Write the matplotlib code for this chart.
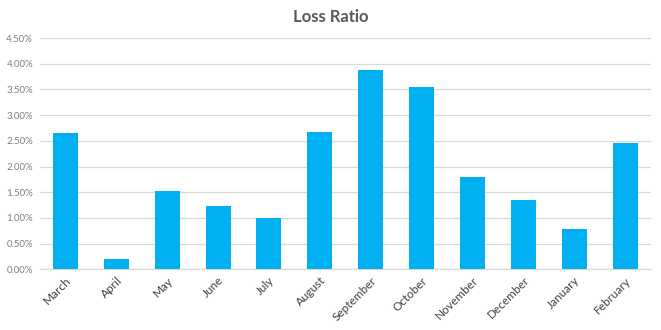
import matplotlib
matplotlib.use("Agg")
import matplotlib.pyplot as plt
from matplotlib.ticker import FuncFormatter, MultipleLocator

months = ["March", "April", "May", "June", "July", "August", "September",
          "October", "November", "December", "January", "February"]
loss_ratio = [2.65, 0.20, 1.52, 1.23, 1.00, 2.68, 3.88, 3.55, 1.79, 1.35, 0.78, 2.45]

plt.rcParams['font.family'] = ['Lato', 'DejaVu Sans']

fig = plt.figure(figsize=(6.61, 3.30), dpi=100)
ax = fig.add_axes([40 / 661, 1 - 269.3 / 330, (650.5 - 40) / 661, (269.3 - 38) / 330])

x = range(len(months))
ax.bar(x, loss_ratio, width=0.49, color="#00B0F0", zorder=3)

ax.set_ylim(0, 4.5)
ax.set_xlim(-0.5, len(months) - 0.5)
ax.yaxis.set_major_locator(MultipleLocator(0.5))
ax.yaxis.set_major_formatter(FuncFormatter(lambda v, _: f"{v:.2f}%"))
ax.grid(axis="y", color="#D9D9D9", linewidth=0.9, zorder=0)

for side in ("top", "right", "left"):
    ax.spines[side].set_visible(False)
ax.spines["bottom"].set_color("#D9D9D9")
ax.spines["bottom"].set_linewidth(0.9)

ax.tick_params(axis="y", length=0, labelsize=7, labelcolor="#7F7F7F", pad=5)
ax.tick_params(axis="x", length=0, labelsize=8.5, labelcolor="#404040", pad=4)
ax.set_xticks(list(x))
ax.set_xticklabels(months, rotation=45, ha="right", rotation_mode="anchor")

fig.text(0.5, 1 - 17 / 330, "Loss Ratio", ha="center", va="center",
         fontsize=12, fontweight="bold", color="#595959")

fig.savefig("out.png", dpi=100)
